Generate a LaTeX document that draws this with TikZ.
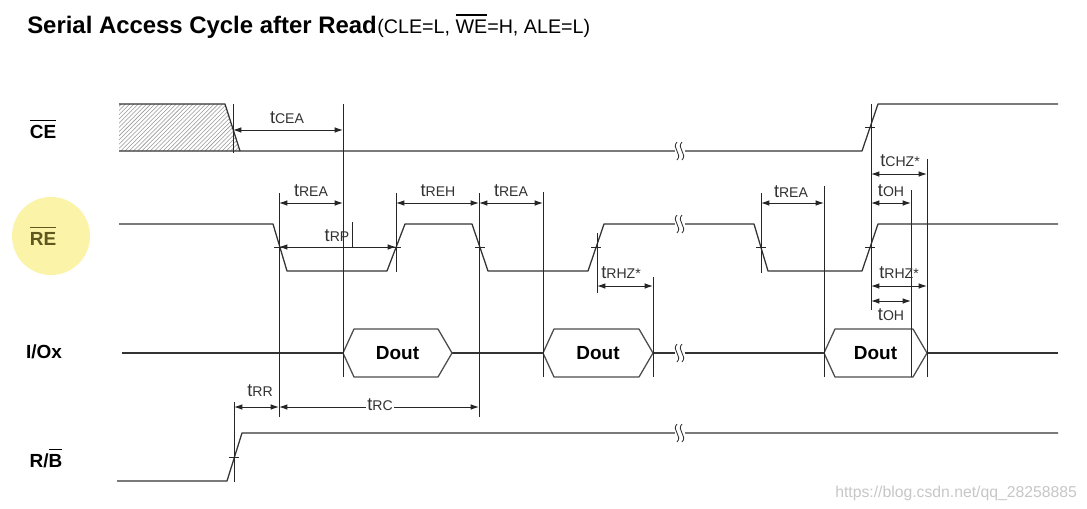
\documentclass[tikz,border=0pt]{standalone}
\usepackage{fontspec}
\setmainfont{Liberation Sans}
\usetikzlibrary{arrows.meta, patterns}

\newcommand{\tparam}[1]{{\fontsize{13}{14}\selectfont t}{\fontsize{10}{12}\selectfont #1}}
\newcommand{\ovl}[1]{\leavevmode\vbox{\hrule height 1.1pt \kern 2.6pt \hbox{#1}}}
\definecolor{hilite}{RGB}{250,243,168}
\definecolor{olive}{RGB}{95,88,30}

\begin{document}
\begin{tikzpicture}[x=0.025cm, y=-0.025cm, every node/.style={inner sep=0pt}]

% Define styles for the timing chart
\tikzstyle{sig} = [line width=0.9pt, draw=black!80, line join=round]
\tikzstyle{ext} = [line width=0.7pt, draw=black!85]
\tikzstyle{dim} = [line width=0.7pt, draw=black!85, {Latex[length=6pt,width=4pt]}-{Latex[length=6pt,width=4pt]}]
\tikzstyle{hexa} = [line width=0.9pt, draw=black!70, line join=round]
\tikzstyle{tlab} = [anchor=base, text=black!80]
\tikzstyle{siglabel} = [anchor=base, font=\fontsize{13.5}{15}\selectfont\bfseries]
\tikzstyle{dout} = [font=\fontsize{13.5}{15}\selectfont\bfseries]

\useasboundingbox (0,0) rectangle (1087,508);
\fill[white] (0,0) rectangle (1087,508);

% Title
\node[anchor=base west] (title) at (27,33) {\fontsize{17}{20}\selectfont\bfseries Serial Access Cycle after Read};
\node[anchor=base west] (cond) at (title.base east) {\fontsize{14}{16}\selectfont (CLE=L, \ovl{WE}=H, ALE=L)};

% Signal names
\fill[hilite] (51,236) circle (0.975cm);
\node[siglabel] (ce) at (43,138) {\ovl{CE}};
\node[siglabel, text=olive] (re) at (43,245) {\ovl{RE}};
\node[siglabel] (io) at (44,358) {I/Ox};
\node[siglabel] (rb) at (46,467) {R/\ovl{B}};

% CE
\fill[pattern=north east lines, pattern color=black!40] (119,104) -- (225,104) -- (240,151) -- (119,151) -- cycle;
\draw[sig] (119,104) -- (225,104) -- (240,151);
\draw[sig] (119,151) -- (862,151) -- (878,104) -- (1058,104);

% RE
\draw[sig] (119,224) -- (273,224) -- (287,271) -- (387,271) -- (405,224) -- (472,224) -- (488,271) -- (588,271)
  -- (604,224) -- (754,224) -- (768,271) -- (862,271) -- (878,224) -- (1058,224);

% I/O
\draw[sig] (122,353) -- (343,353);
\draw[sig] (452,353) -- (543,353);
\draw[sig] (653,353) -- (824,353);
\draw[sig] (927,353) -- (1058,353);
\foreach \a/\b/\n in {343/452/1, 543/653/2, 824/927/3} {
  \draw[hexa] (\a,353) -- ({\a+11},329) -- ({\b-14},329) -- (\b,353) -- ({\b-14},377) -- ({\a+11},377) -- cycle;
  \node[dout] (dout\n) at ({(\a+\b)/2},353) {Dout};
}

% R/B
\draw[sig] (117,481) -- (227,481) -- (242,433) -- (1058,433);

% Extension lines
\foreach \x/\ya/\yb in {233/104/153, 343/104/377, 279/193/417, 396/193/272, 479/193/417, 543/192/377,
  597/233/293, 653/277/377, 761/193/273, 824/186/377, 871/104/310, 911/190/377, 927/159/377,
  234/402/482, 352/222/248}
  \draw[ext] (\x,\ya) -- (\x,\yb);

% Edge ticks
\foreach \x/\y in {279/247, 396/247, 480/247, 596/247, 761/247, 870/247, 870/127, 234/457}
  \draw[ext] ({\x-5},\y) -- ({\x+5},\y);

% Breaks
\foreach \y in {151, 224, 353, 433} {
  \fill[white] (675,{\y-4}) rectangle (685,{\y+4});
  \draw[line width=0.6pt, black!80] (677,{\y-9}) .. controls (671,{\y-3}) and (683,{\y+3}) .. (677,{\y+9});
  \draw[line width=0.6pt, black!80] (682,{\y-9}) .. controls (676,{\y-3}) and (688,{\y+3}) .. (682,{\y+9});
}

% Arrows
\draw[dim] (233,130) -- (343,130);
\draw[dim] (279,203) -- (343,203);
\draw[dim] (279,247) -- (396,247);
\draw[dim] (396,203) -- (479,203);
\draw[dim] (479,203) -- (543,203);
\draw[dim] (597,286) -- (653,286);
\draw[dim] (761,203) -- (824,203);
\draw[dim] (871,174) -- (927,174);
\draw[dim] (871,203) -- (911,203);
\draw[dim] (871,286) -- (927,286);
\draw[dim] (871,301) -- (911,301);
\draw[dim] (234,407) -- (279,407);
\draw[dim] (279,407) -- (479,407);

% Timing labels
\node[tlab] (tcea) at (287,123) {\tparam{CEA}};
\node[tlab] (trea1) at (311,196) {\tparam{REA}};
\node[tlab] (trp) at (337,241) {\tparam{RP}};
\node[tlab] (treh) at (438,196) {\tparam{REH}};
\node[tlab] (trea2) at (511,196) {\tparam{REA}};
\node[tlab] (trhz1) at (621,278) {\tparam{RHZ*}};
\node[tlab] (trea3) at (791,197) {\tparam{REA}};
\node[tlab] (tchz) at (900,166) {\tparam{CHZ*}};
\node[tlab] (toh1) at (891,196) {\tparam{OH}};
\node[tlab] (trhz2) at (899,278) {\tparam{RHZ*}};
\node[tlab] (toh2) at (891,320) {\tparam{OH}};
\node[tlab] (trr) at (260,396) {\tparam{RR}};
\node[tlab, fill=white, inner sep=1pt] (trc) at (380,410) {\tparam{RC}};

% Watermark
\node[anchor=base west, text=black!22, font=\fontsize{11.2}{13}\selectfont] (wm) at (835,497) {https://blog.csdn.net/qq\_28258885};

\end{tikzpicture}
\end{document}
